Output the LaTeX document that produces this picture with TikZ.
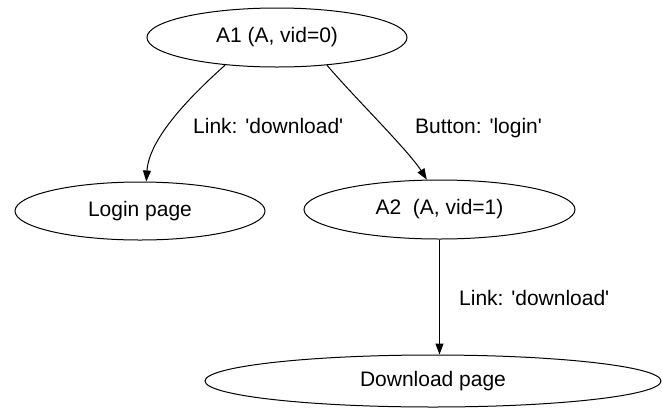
\documentclass[tikz,border=0pt]{standalone}
\usepackage{fontspec}
\newfontfamily\graphfont{Liberation Sans}
\usetikzlibrary{shapes.geometric,arrows.meta}
\begin{document}
\begin{tikzpicture}[x=1pt,y=-1pt,
  txt/.style={font=\graphfont\fontsize{21}{25}\selectfont},
  state/.style={txt, ellipse, draw, line width=1pt, inner sep=0pt},
  lbl/.style={txt, inner sep=0pt, anchor=base west},
  edge/.style={line width=1pt, -{Triangle[length=11pt,width=8pt]}}]
\useasboundingbox (0,0) rectangle (662,408);

% states
\node[state, minimum width=260pt, minimum height=59pt] (a1) at (277,37.5) {A1 (A, vid=0)};
\node[state, minimum width=250pt, minimum height=58pt] (login) at (140,211) {Login page};
\node[state, minimum width=271pt, minimum height=59pt] (a2) at (439.5,209.5) {A2 \ (A, vid=1)};
\node[state, minimum width=456pt, minimum height=52pt] (dl) at (433,381) {Download page};

% transitions
\draw[edge] (a1.208) .. controls (186,100) and (149,140) .. (login.78);
\draw[edge] (a1.331) .. controls (353,96) and (408,150) .. (a2.113);
\draw[edge] (a2.south) -- (a2.south |- dl.north);

% transition labels
\node[lbl] (l1) at (193,133) {Link: 'download'};
\node[lbl] (l2) at (415,133) {Button: 'login'};
\node[lbl] (l3) at (459,305) {Link: 'download'};
\end{tikzpicture}
\end{document}
